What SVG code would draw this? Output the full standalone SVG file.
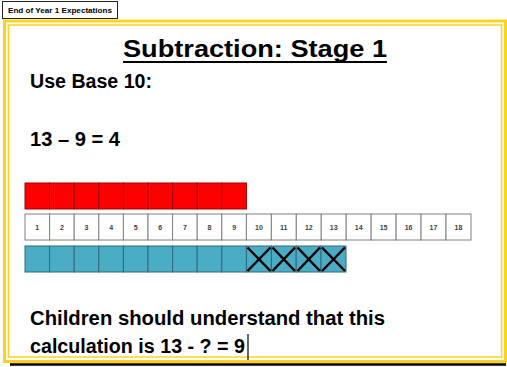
<svg xmlns="http://www.w3.org/2000/svg" width="507" height="367" viewBox="0 0 507 367">
<style>
.t{font-family:"Liberation Sans",Arial,sans-serif;font-weight:bold;fill:#000}
.big{font-size:19.5px}
.num{font-family:"Liberation Sans",Arial,sans-serif;font-weight:bold;font-size:7px;fill:#404040;text-anchor:middle}
.red rect{fill:#FF0000;stroke:#A00000;stroke-width:1}
.strip rect{fill:#FFFFFF;stroke:#808080;stroke-width:1}
.teal rect{fill:#4BACC6;stroke:#2E6A7A;stroke-width:1}
.x line{stroke:#000;stroke-width:2.5}
</style>
<rect width="507" height="367" fill="#FFFFFF"/>
<g id="label">
<rect x="2.5" y="1.5" width="115" height="17" fill="#FFFFFF" stroke="#222" stroke-width="1"/>
<text x="8" y="12.5" font-family="Liberation Sans,Arial,sans-serif" font-weight="bold" font-size="7" textLength="104" lengthAdjust="spacingAndGlyphs">End of Year 1 Expectations</text>
</g>
<g id="frame">
<line x1="10" y1="364.5" x2="506" y2="364.5" stroke="#000" stroke-width="2.5"/>
<rect x="4.5" y="21" width="501" height="340.5" fill="none" stroke="#FFD21F" stroke-width="3"/>
<rect x="8.5" y="25" width="493" height="332" fill="#FFFFFF" stroke="#FFD21F" stroke-width="1.5"/>
</g>
<g id="title">
<text class="t" x="123" y="57" font-size="24" textLength="264" lengthAdjust="spacingAndGlyphs">Subtraction: Stage 1</text>
<line x1="123" y1="62" x2="387" y2="62" stroke="#000" stroke-width="2"/>
</g>
<g id="intro">
<text class="t big" x="30" y="88" textLength="122" lengthAdjust="spacingAndGlyphs">Use Base 10:</text>
<text class="t big" x="30" y="146" textLength="90" lengthAdjust="spacingAndGlyphs">13 – 9 = 4</text>
</g>
<g id="red-bar" class="red">
<rect x="25" y="183" width="24.6" height="26"/>
<rect x="49.6" y="183" width="24.6" height="26"/>
<rect x="74.2" y="183" width="24.6" height="26"/>
<rect x="98.8" y="183" width="24.6" height="26"/>
<rect x="123.4" y="183" width="24.6" height="26"/>
<rect x="148" y="183" width="24.6" height="26"/>
<rect x="172.6" y="183" width="24.6" height="26"/>
<rect x="197.2" y="183" width="24.6" height="26"/>
<rect x="221.8" y="183" width="24.6" height="26"/>
</g>
<g id="number-line">
<g class="strip">
<rect x="25" y="214" width="24.6" height="26"/>
<rect x="49.6" y="214" width="24.6" height="26"/>
<rect x="74.2" y="214" width="24.6" height="26"/>
<rect x="98.8" y="214" width="24.6" height="26"/>
<rect x="123.4" y="214" width="24.6" height="26"/>
<rect x="148" y="214" width="24.6" height="26"/>
<rect x="172.6" y="214" width="24.6" height="26"/>
<rect x="197.2" y="214" width="24.6" height="26"/>
<rect x="221.8" y="214" width="24.6" height="26"/>
<rect x="246.4" y="214" width="24.95" height="26"/>
<rect x="271.35" y="214" width="24.95" height="26"/>
<rect x="296.3" y="214" width="24.95" height="26"/>
<rect x="321.25" y="214" width="24.95" height="26"/>
<rect x="346.2" y="214" width="24.95" height="26"/>
<rect x="371.15" y="214" width="24.95" height="26"/>
<rect x="396.1" y="214" width="24.95" height="26"/>
<rect x="421.05" y="214" width="24.95" height="26"/>
<rect x="446" y="214" width="25" height="26"/>
</g>
<text class="num" x="37.3" y="230">1</text>
<text class="num" x="61.9" y="230">2</text>
<text class="num" x="86.5" y="230">3</text>
<text class="num" x="111.1" y="230">4</text>
<text class="num" x="135.7" y="230">5</text>
<text class="num" x="160.3" y="230">6</text>
<text class="num" x="184.9" y="230">7</text>
<text class="num" x="209.5" y="230">8</text>
<text class="num" x="234.1" y="230">9</text>
<text class="num" x="258.9" y="230">10</text>
<text class="num" x="283.8" y="230">11</text>
<text class="num" x="308.8" y="230">12</text>
<text class="num" x="333.7" y="230">13</text>
<text class="num" x="358.7" y="230">14</text>
<text class="num" x="383.6" y="230">15</text>
<text class="num" x="408.6" y="230">16</text>
<text class="num" x="433.5" y="230">17</text>
<text class="num" x="458.5" y="230">18</text>
</g>
<g id="teal-bar">
<g class="teal">
<rect x="25" y="246" width="24.6" height="26"/>
<rect x="49.6" y="246" width="24.6" height="26"/>
<rect x="74.2" y="246" width="24.6" height="26"/>
<rect x="98.8" y="246" width="24.6" height="26"/>
<rect x="123.4" y="246" width="24.6" height="26"/>
<rect x="148" y="246" width="24.6" height="26"/>
<rect x="172.6" y="246" width="24.6" height="26"/>
<rect x="197.2" y="246" width="24.6" height="26"/>
<rect x="221.8" y="246" width="24.6" height="26"/>
<rect x="246.4" y="246" width="25" height="26"/>
<rect x="271.4" y="246" width="24.8" height="26"/>
<rect x="296.2" y="246" width="24.8" height="26"/>
<rect x="321" y="246" width="25" height="26"/>
</g>
<g class="x">
<line x1="247.5" y1="247.5" x2="270.5" y2="271"/><line x1="270.5" y1="247.5" x2="247.5" y2="271"/>
<line x1="272.5" y1="247.5" x2="295" y2="271"/><line x1="295" y1="247.5" x2="272.5" y2="271"/>
<line x1="297.5" y1="247.5" x2="320" y2="271"/><line x1="320" y1="247.5" x2="297.5" y2="271"/>
<line x1="322" y1="247.5" x2="345" y2="271"/><line x1="345" y1="247.5" x2="322" y2="271"/>
</g>
</g>
<g id="conclusion">
<text class="t big" x="30" y="325" textLength="355" lengthAdjust="spacingAndGlyphs">Children should understand that this</text>
<text class="t big" x="30" y="353" textLength="215" lengthAdjust="spacingAndGlyphs">calculation is 13 - ? = 9</text>
<line x1="248" y1="334" x2="248" y2="360" stroke="#000" stroke-width="1.2"/>
</g>
</svg>
